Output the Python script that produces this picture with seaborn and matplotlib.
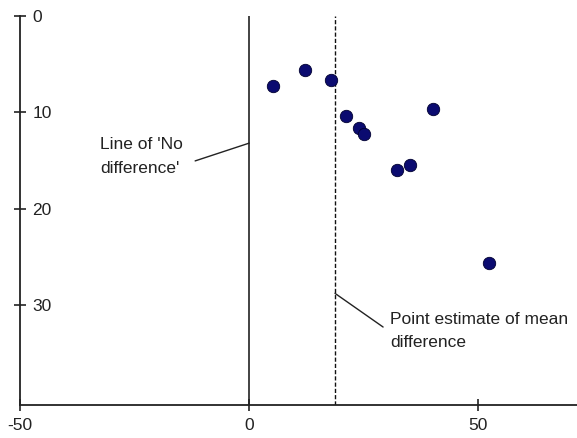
import pandas as pd
import matplotlib
matplotlib.use('Agg')
import matplotlib.pyplot as plt
import seaborn as sns

# differences (x) and study index / precision (y)
diff = [5.2, 12.2, 17.8, 21.1, 23.9, 25.0, 32.2, 35.0, 40.0, 52.2]
yval = [7.3, 5.6, 6.6, 10.4, 11.6, 12.3, 16.0, 15.5, 9.7, 25.6]
mean_diff = 18.7
x_ticks = [-50, 0, 50]
y_ticks = [0, 10, 20, 30]

sns.set_style('white')
plt.rcParams['font.family'] = ['Liberation Sans', 'DejaVu Sans']
plt.rcParams['axes.unicode_minus'] = False

df = pd.DataFrame({'diff': diff, 'y': yval})

fig = plt.figure(figsize=(5.77, 4.38), dpi=100)
ax = fig.add_axes([0.0347, 0.0753, 0.9653, 0.8882])

sns.scatterplot(x='diff', y='y', data=df, ax=ax, s=80, color='#0b0b70',
                edgecolor='#000030', linewidth=0.6, zorder=3)

ax.axvline(0, color='#222222', lw=1.2, zorder=2)
ax.axvline(mean_diff, color='#111111', lw=1.0, ls=(0, (3, 1.5)), zorder=2)

ax.set_xlim(-50, 71.5)
ax.set_ylim(40.4, 0)
ax.set_xticks(x_ticks)
ax.set_yticks(y_ticks)
ax.set_xlabel('')
ax.set_ylabel('')

for s in ['top', 'right']:
    ax.spines[s].set_visible(False)
for s in ['left', 'bottom']:
    ax.spines[s].set_color('#222222')
    ax.spines[s].set_linewidth(1.3)

ax.tick_params(axis='both', direction='inout', length=8, width=1.2,
               left=True, bottom=True,
               color='#222222', labelsize=12.5, labelcolor='#222222')
ax.tick_params(axis='y', pad=-13)
for lbl in ax.get_yticklabels():
    lbl.set_horizontalalignment('left')
ax.tick_params(axis='x', pad=5)

# annotations
ax.text(-32.5, 14.6, "Line of 'No\ndifference'", fontsize=12.5,
        color='#222222', va='center', ha='left', linespacing=1.7)
ax.annotate('', xy=(0, 13.2), xytext=(-11.8, 15.05),
            arrowprops=dict(arrowstyle='-', color='#222222', lw=1.0,
                            shrinkA=0, shrinkB=0))
ax.text(30.7, 32.7, "Point estimate of mean\ndifference", fontsize=12.5,
        color='#222222', va='center', ha='left', linespacing=1.7)
ax.annotate('', xy=(mean_diff, 28.8), xytext=(29.2, 32.3),
            arrowprops=dict(arrowstyle='-', color='#222222', lw=1.0,
                            shrinkA=0, shrinkB=0))

fig.savefig('out.png', dpi=100)
